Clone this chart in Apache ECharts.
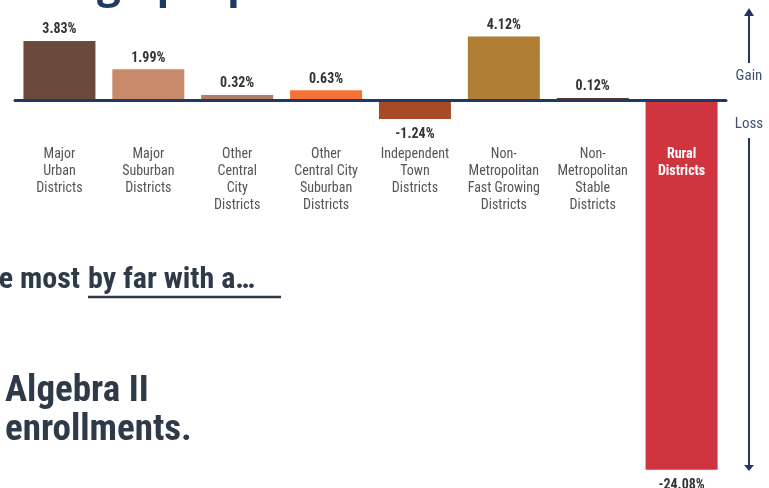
<!DOCTYPE html>
<html>
<head>
<meta charset="utf-8">
<script src="https://cdn.jsdelivr.net/npm/echarts@6/dist/echarts.min.js"></script>
<style>
  html, body { margin: 0; padding: 0; background: #fff; }
  #main { width: 769px; height: 488px; }
</style>
</head>
<body>
<div id="main"></div>
<script>
"use strict";
// 数据
var categories = ['Major\nUrban\nDistricts', 'Major\nSuburban\nDistricts', 'Other\nCentral\nCity\nDistricts',
    'Other\nCentral City\nSuburban\nDistricts', 'Independent\nTown\nDistricts', 'Non-\nMetropolitan\nFast Growing\nDistricts',
    'Non-\nMetropolitan\nStable\nDistricts', 'Rural\nDistricts'];
var changeValues = [3.83, 1.99, 0.32, 0.63, -1.24, 4.12, 0.12, -24.08];
var barColors = ['#6b4a3c', '#c98a6c', '#b47d66', '#f47335', '#a74b26', '#b07e33', '#5a3a32', '#d0343f'];

var NAVY = '#1f3864';
var condensed = "'Roboto Condensed','Liberation Sans Narrow','DejaVu Sans Condensed',Roboto,sans-serif";

var chart = echarts.init(document.getElementById('main'));

var option = {
    backgroundColor: '#fff',
    animation: false,
    grid: {left: 15, width: 711, top: 23, height: 461, containLabel: false, outerBoundsMode: 'none'},
    xAxis: {
        type: 'category',
        data: categories,
        position: 'top',
        offset: -77, // 轴线放在 0 的位置
        z: 5,
        axisLine: {onZero: false, lineStyle: {color: NAVY, width: 3}},
        axisTick: {show: false},
        axisLabel: {
            inside: true,
            interval: 0,
            margin: 46,
            verticalAlign: 'top',
            color: '#555',
            fontFamily: condensed,
            fontSize: 14,
            lineHeight: 17,
            formatter: function (v) {
                return v === 'Rural\nDistricts' ? '{w|Rural}\n{w|Districts}' : v;
            },
            rich: {
                w: {color: '#fff', fontWeight: 'bold', fontFamily: condensed, fontSize: 14, lineHeight: 17}
            }
        }
    },
    yAxis: {
        type: 'value',
        min: -25,
        max: 5,
        show: false,
        splitLine: {show: false}
    },
    series: [{
        type: 'bar',
        barWidth: 72,
        data: changeValues.map(function (v, i) {
            return {
                value: v,
                itemStyle: {color: barColors[i]},
                label: {position: v < 0 ? 'bottom' : 'top', distance: v < 0 ? 9 : 4}
            };
        }),
        label: {
            show: true,
            color: '#333',
            fontWeight: 'bold',
            fontFamily: condensed,
            fontSize: 14,
            formatter: function (p) {
                return p.value.toFixed(2) + '%';
            }
        }
    }],
    graphic: [
        // 标题（被裁切）
        {type: 'text', x: 420, y: -14, style: {
            text: 'college preparation.', align: 'right', verticalAlign: 'middle',
            fill: NAVY, font: "bold 42px 'Open Sans', sans-serif"}},
        // 正文
        {type: 'text', x: 80, y: 280, style: {
            text: 'the most', align: 'right', verticalAlign: 'middle',
            fill: '#2e3a48', font: 'bold 30px ' + condensed}},
        {type: 'text', x: 88, y: 280, style: {
            text: 'by far with a\u2026', align: 'left', verticalAlign: 'middle',
            fill: '#2e3a48', font: 'bold 30px ' + condensed}},
        {type: 'line', shape: {x1: 88, y1: 297, x2: 281, y2: 297}, style: {stroke: '#2e3a48', lineWidth: 2.5}},
        {type: 'text', x: 5, y: 392, style: {
            text: 'Algebra II', align: 'left', verticalAlign: 'middle',
            fill: '#2e3a48', font: 'bold 37px ' + condensed}},
        {type: 'text', x: 5, y: 431, style: {
            text: 'enrollments.', align: 'left', verticalAlign: 'middle',
            fill: '#2e3a48', font: 'bold 37px ' + condensed}},
        // 右侧箭头
        {type: 'line', shape: {x1: 749, y1: 12, x2: 749, y2: 63}, style: {stroke: NAVY, lineWidth: 2}},
        {type: 'polygon', shape: {points: [[744, 16], [754, 16], [749, 8]]}, style: {fill: NAVY}},
        {type: 'text', x: 749, y: 76, style: {text: 'Gain', align: 'center', verticalAlign: 'middle',
            fill: '#3d5270', font: '15px ' + condensed}},
        {type: 'text', x: 749, y: 124, style: {text: 'Loss', align: 'center', verticalAlign: 'middle',
            fill: '#3d5270', font: '15px ' + condensed}},
        {type: 'line', shape: {x1: 749, y1: 138, x2: 749, y2: 466}, style: {stroke: NAVY, lineWidth: 2}},
        {type: 'polygon', shape: {points: [[744, 465], [754, 465], [749, 471]]}, style: {fill: NAVY}}
    ]
};

chart.setOption(option);
</script>
</body>
</html>
